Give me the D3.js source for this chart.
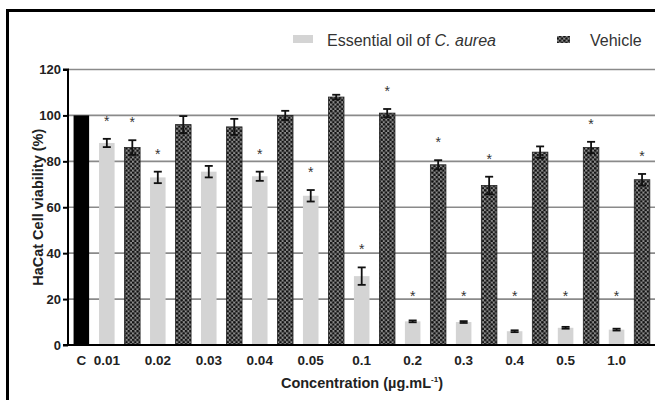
<!DOCTYPE html>
<html>
<head>
<meta charset="utf-8">
<script src="https://cdn.jsdelivr.net/npm/d3@7"></script>
<style>
  body { margin: 0; background: #fff; }
  text { font-family: "Liberation Sans", Arial, sans-serif; }
</style>
</head>
<body>
<script>

const concentrations = ["0.01", "0.02", "0.03", "0.04", "0.05", "0.1", "0.2", "0.3", "0.4", "0.5", "1.0"];
const controlValue = 100;
const oilValues = [88, 73, 75.5, 73.5, 65, 30, 10.3, 10, 6, 7.5, 6.7];
const oilErrors = [1.8, 2.5, 2.5, 2, 2.5, 3.8, 0.4, 0.4, 0.4, 0.4, 0.4];
const oilStars = [true, true, false, true, true, true, true, true, true, true, true];
const vehicleValues = [86, 96, 95, 100, 108, 101, 78.5, 69.5, 84, 86, 72];
const vehicleErrors = [3.2, 3.7, 3.5, 2, 1, 1.8, 2, 3.8, 2.5, 2.5, 2.5];
const vehicleStars = [true, false, false, false, false, true, true, true, false, true, true];
const yTicks = [0, 20, 40, 60, 80, 100, 120];

const W = 655;
const H = 400;

const svg = d3.select("body")
.append("svg")
.attr("width", W)
.attr("height", H);

// checkered fill of the vehicle bars
const defs = svg.append("defs");
const pat = defs.append("pattern")
.attr("id", "checks")
.attr("patternUnits", "userSpaceOnUse")
.attr("width", 4.4)
.attr("height", 4.4);
pat.append("rect").attr("width", 4.4).attr("height", 4.4).attr("fill", "#8c8c8c");
pat.append("circle").attr("cx", 1.1).attr("cy", 1.1).attr("r", 1.35).attr("fill", "#111");
pat.append("circle").attr("cx", 3.3).attr("cy", 3.3).attr("r", 1.35).attr("fill", "#111");

// frame
svg.append("rect")
.attr("x", 7.5)
.attr("y", 10.5)
.attr("width", 700)
.attr("height", 500)
.attr("fill", "none")
.attr("stroke", "#000")
.attr("stroke-width", 3);

// one row of bars: control, then oil / vehicle pairs
const bars = [{key: "C", value: controlValue, err: 0, star: false, kind: "control", label: "C"}];
concentrations.forEach((c, i) => {
  bars.push({key: "oil" + c, value: oilValues[i], err: oilErrors[i], star: oilStars[i], kind: "oil", label: c});
  bars.push({key: "veh" + c, value: vehicleValues[i], err: vehicleErrors[i], star: vehicleStars[i], kind: "vehicle", label: null});
});

const xScale = d3.scaleBand()
.domain(bars.map(d => d.key))
.range([68.6, 654.8])
.paddingInner(0.39)
.paddingOuter(0.195);

const yScale = d3.scaleLinear()
.domain([0, 120])
.range([345, 69.5]);

const x0 = 68;

// gridlines
svg.append("g")
.selectAll("line")
.data(yTicks.filter(d => d > 0))
.enter()
.append("line")
.attr("x1", x0)
.attr("x2", W)
.attr("y1", d => yScale(d))
.attr("y2", d => yScale(d))
.attr("stroke", "#8a8a8a")
.attr("stroke-width", 1.6);

const fills = {control: "#000", oil: "#d4d4d4", vehicle: "url(#checks)"};

svg.append("g")
.selectAll("rect")
.data(bars)
.enter()
.append("rect")
.attr("x", d => xScale(d.key))
.attr("width", xScale.bandwidth())
.attr("y", d => yScale(d.value))
.attr("height", d => yScale(0) - yScale(d.value))
.attr("fill", d => fills[d.kind])
.attr("stroke", d => d.kind == "vehicle" ? "#222" : "none")
.attr("stroke-width", 0.8);

// error bars
const errs = svg.append("g")
.attr("stroke", "#111")
.attr("stroke-width", 1.8)
.selectAll("g")
.data(bars.filter(d => d.err > 0))
.enter()
.append("g")
.attr("transform", d => `translate(${xScale(d.key) + xScale.bandwidth() / 2},0)`);

errs.append("line")
.attr("y1", d => yScale(d.value - d.err))
.attr("y2", d => yScale(d.value + d.err));

errs.append("line")
.attr("x1", -4).attr("x2", 4)
.attr("y1", d => yScale(d.value + d.err))
.attr("y2", d => yScale(d.value + d.err));

errs.append("line")
.attr("x1", -4).attr("x2", 4)
.attr("y1", d => yScale(d.value - d.err))
.attr("y2", d => yScale(d.value - d.err));

// significance stars
svg.append("g")
.selectAll("text")
.data(bars.filter(d => d.star))
.enter()
.append("text")
.text("*")
.attr("x", d => xScale(d.key) + xScale.bandwidth() / 2)
.attr("y", d => Math.min(yScale(d.value + d.err), yScale(13.5)) - 13)
.attr("text-anchor", "middle")
.attr("font-size", 14)
.attr("fill", "#333");

// axes
const yAxis = d3.axisLeft(yScale).tickValues(yTicks).tickSize(5).tickPadding(2);
const gy = svg.append("g")
.attr("transform", `translate(${x0},0)`)
.call(yAxis);
gy.select(".domain").attr("stroke", "#000").attr("stroke-width", 2).attr("d", `M-5,${yScale(120)}H0V${yScale(0)}H-5`);
gy.selectAll(".tick line").attr("stroke", "#000").attr("stroke-width", 2);
gy.selectAll(".tick text")
.attr("font-family", "Liberation Sans, Arial, sans-serif")
.attr("font-size", 13)
.attr("font-weight", "bold")
.attr("fill", "#222");

svg.append("line")
.attr("x1", x0 - 1)
.attr("x2", W)
.attr("y1", yScale(0))
.attr("y2", yScale(0))
.attr("stroke", "#000")
.attr("stroke-width", 2);

svg.append("g")
.selectAll("text")
.data(bars.filter(d => d.label))
.enter()
.append("text")
.text(d => d.label)
.attr("x", d => xScale(d.key) + xScale.bandwidth() / 2)
.attr("y", 365)
.attr("text-anchor", "middle")
.attr("font-size", 13.5)
.attr("font-weight", "bold")
.attr("fill", "#222");

// axis titles
svg.append("text")
.text("HaCat Cell viability (%)")
.attr("transform", `translate(43,${yScale(60)}) rotate(-90)`)
.attr("text-anchor", "middle")
.attr("font-size", 14.5)
.attr("font-weight", "bold")
.attr("fill", "#222");

const xt = svg.append("text")
.attr("x", 362)
.attr("y", 388)
.attr("text-anchor", "middle")
.attr("font-size", 14.5)
.attr("font-weight", "bold")
.attr("fill", "#222");
xt.append("tspan").text("Concentration (µg.mL");
xt.append("tspan").text("-1").attr("font-size", 8).attr("dy", -6);
xt.append("tspan").text(")").attr("dy", 6);

// legend
const legend = svg.append("g").attr("fill", "#333");

legend.append("rect")
.attr("x", 293).attr("y", 35).attr("width", 20).attr("height", 8)
.attr("fill", "#d4d4d4");

const lt = legend.append("text")
.attr("x", 327).attr("y", 46)
.attr("font-size", 16);
lt.append("tspan").text("Essential oil of ");
lt.append("tspan").text("C. aurea").attr("font-style", "italic");

legend.append("rect")
.attr("x", 557).attr("y", 36).attr("width", 13).attr("height", 7)
.attr("fill", "url(#checks)");

legend.append("text")
.text("Vehicle")
.attr("x", 590).attr("y", 46)
.attr("font-size", 16);

</script>
</body>
</html>
